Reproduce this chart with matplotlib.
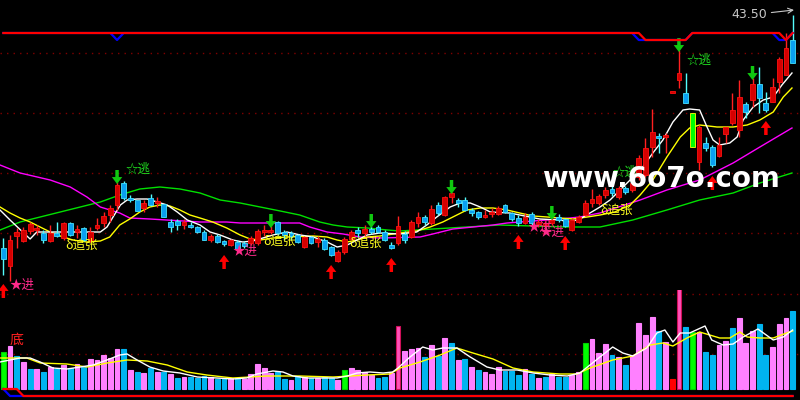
import matplotlib
matplotlib.use('Agg')
import matplotlib.pyplot as plt
import numpy as np

# daily candles (price)
open_ = [20.2, 18.4, 21.4, 20.9, 21.9, 22.0, 21.7, 20.9, 21.7, 21.2,
         22.7, 21.8, 22.2, 21.0, 22.2, 22.7, 23.5, 24.5, 26.7, 25.2,
         25.0, 24.2, 25.2, 24.7, 24.6, 22.8, 22.9, 22.5, 22.5, 22.3,
         21.8, 21.0, 21.4, 20.9, 20.5, 20.8, 20.7, 20.7, 20.7, 21.8,
         21.8, 22.8, 21.8, 21.7, 21.5, 20.3, 21.3, 20.8, 21.0, 20.3,
         18.9, 19.8, 21.1, 22.0, 21.7, 22.1, 22.3, 21.8, 20.5, 20.7,
         21.6, 21.3, 22.7, 23.3, 22.7, 24.5, 23.5, 25.3, 25.0, 25.0,
         24.0, 23.8, 23.3, 23.6, 23.6, 24.5, 23.7, 23.2, 22.7, 23.6,
         22.6, 22.5, 22.7, 23.3, 23.1, 22.0, 22.8, 23.5, 24.7, 24.7,
         25.5, 26.1, 25.3, 26.2, 26.0, 27.3, 27.5, 30.3, 31.4, 31.3,
         35.7, 37.0, 35.7, 33.7, 28.8, 30.7, 30.3, 29.4, 31.6, 32.7,
         32.0, 34.6, 35.0, 36.6, 34.7, 34.8, 36.8, 37.5, 41.0]
close = [19.1, 21.0, 21.8, 22.0, 22.6, 22.2, 21.0, 21.7, 21.4, 22.7,
         21.5, 22.1, 21.0, 21.8, 22.5, 23.4, 24.2, 26.5, 25.2, 25.0,
         23.9, 24.7, 24.5, 24.9, 23.3, 22.3, 22.5, 22.8, 22.3, 21.8,
         21.0, 21.4, 20.8, 20.6, 21.0, 20.1, 20.4, 21.2, 21.9, 21.9,
         22.0, 21.7, 21.5, 21.4, 20.8, 21.3, 20.7, 21.1, 20.1, 19.5,
         19.8, 21.1, 21.8, 21.7, 22.1, 21.8, 21.8, 21.0, 20.2, 22.4,
         21.0, 22.8, 23.3, 22.8, 24.1, 23.7, 25.3, 25.7, 24.7, 24.0,
         23.7, 23.3, 23.5, 23.8, 24.2, 23.8, 23.1, 22.7, 23.3, 22.7,
         22.8, 22.7, 23.0, 23.0, 22.4, 23.0, 23.3, 24.7, 25.1, 25.4,
         26.0, 25.7, 26.2, 25.8, 26.7, 29.2, 30.2, 31.8, 31.2, 31.5,
         35.7, 37.7, 34.7, 30.3, 32.3, 30.2, 28.5, 30.5, 32.3, 34.0,
         35.3, 33.8, 36.6, 35.2, 34.0, 36.3, 39.1, 40.2, 38.7]
high = [21.2, 21.5, 22.2, 22.3, 22.8, 22.5, 22.0, 22.5, 22.8, 22.8,
        22.8, 22.5, 22.3, 22.3, 23.2, 23.8, 24.5, 26.8, 26.9, 25.5,
        25.0, 25.0, 25.6, 25.3, 24.6, 23.1, 23.1, 23.1, 22.8, 22.4,
        22.0, 21.6, 21.6, 21.0, 21.1, 21.0, 20.9, 21.4, 22.1, 22.5,
        22.4, 22.9, 22.0, 21.9, 21.6, 21.4, 21.4, 21.4, 21.2, 20.4,
        20.0, 21.3, 22.0, 22.3, 22.5, 22.4, 22.5, 22.0, 20.8, 23.4,
        21.9, 23.0, 23.8, 23.5, 24.5, 24.8, 25.4, 25.8, 25.2, 25.3,
        24.2, 23.9, 24.0, 24.2, 24.4, 24.6, 23.8, 23.5, 23.7, 23.8,
        23.1, 22.9, 23.2, 23.6, 23.2, 23.2, 23.5, 25.0, 26.1, 25.6,
        26.3, 26.4, 26.4, 26.4, 27.0, 29.5, 31.2, 34.1, 31.7, 31.7,
        35.7, 40.0, 37.7, 33.7, 32.5, 31.3, 30.5, 31.3, 32.3, 35.7,
        37.0, 34.8, 37.2, 38.3, 35.8, 37.2, 39.3, 41.7, 43.5]
low = [17.5, 16.9, 20.2, 20.8, 21.6, 21.5, 20.7, 20.8, 21.3, 21.0,
       21.4, 21.2, 20.9, 20.8, 22.0, 22.3, 22.8, 24.0, 25.0, 24.8,
       23.9, 23.8, 24.4, 24.3, 23.3, 21.8, 22.0, 22.1, 22.2, 21.7,
       21.0, 20.8, 20.7, 20.4, 20.4, 20.0, 20.2, 20.5, 20.5, 21.4,
       21.6, 21.5, 21.0, 21.0, 20.7, 20.2, 20.6, 20.3, 20.0, 19.4,
       18.8, 19.6, 21.0, 21.3, 21.4, 21.6, 21.7, 20.9, 20.1, 20.5,
       20.7, 21.2, 22.3, 22.5, 22.5, 23.5, 23.4, 24.7, 24.3, 23.9,
       23.4, 23.1, 23.2, 23.3, 23.5, 23.7, 22.9, 22.4, 22.6, 22.5,
       22.3, 22.2, 22.5, 22.8, 22.3, 21.9, 22.7, 23.4, 24.3, 24.5,
       25.2, 25.4, 25.1, 25.6, 25.8, 27.0, 27.3, 29.3, 29.7, 29.7,
       35.7, 36.2, 34.7, 30.3, 28.0, 29.9, 28.3, 29.3, 30.7, 32.5,
       31.3, 33.2, 34.3, 33.7, 33.8, 34.8, 35.7, 37.5, 38.7]
special_candle = [103]

# volume and its bar class (u up, d down, g signal, m heavy, r tiny)
volume = [37, 43, 33, 27, 20, 20, 17, 22, 20, 24,
          21, 25, 22, 30, 29, 34, 31, 40, 40, 19,
          17, 16, 21, 17, 17, 15, 11, 12, 12, 11,
          13, 12, 10, 11, 11, 11, 10, 15, 25, 21,
          16, 17, 10, 9, 13, 12, 11, 11, 12, 11,
          9, 19, 21, 19, 17, 14, 11, 12, 16, 63,
          38, 40, 41, 32, 44, 33, 51, 46, 29, 30,
          22, 19, 17, 15, 22, 18, 18, 14, 20, 15,
          11, 12, 15, 12, 12, 14, 17, 46, 50, 36,
          45, 34, 32, 24, 34, 66, 54, 72, 58, 47,
          10, 109, 62, 57, 57, 37, 34, 44, 48, 61,
          71, 46, 58, 65, 34, 42, 65, 71, 78]
vol_kind = ("gududududu"
            "duduuuuudu"
            "dududududd"
            "dudduduuuu"
            "uddudududd"
            "uguuuuddum"
            "uuudududud"
            "uduuudddud"
            "ududduuguu"
            "ududuuuudu"
            "rmdgudduud"
            "uuudduuud")

# moving averages on price (bar index, price)
white_x = [-0.5, 1, 4, 5, 14.5, 15.5, 16.4, 17.5, 18.5, 20, 21.5, 23, 24.5, 26,
           27.5, 29.4, 30.9, 32.4, 34.3, 35.8, 37.3, 38.8, 40.3, 42.4, 44.4,
           46.3, 48.4, 49.9, 51.4, 52.9, 54.4, 56.3, 59.3, 61.8, 63.3, 64.8,
           66.8, 68.3, 69.8, 71.3, 72.8, 75.7, 77.2, 80.2, 83.2, 84.7, 86.2,
           87.7, 89.2, 90.7, 92.2, 93.7, 95.6, 97.1, 98.6, 100.1, 101.6, 102.6,
           104.1, 105.2, 106.1, 107.1, 108.6, 109.7, 110.6, 112.1, 113.6, 115.1,
           116.4, 117.9]
white_y = [24.0, 23.0, 21.1, 21.8, 21.8, 22.3, 23.3, 24.5, 25.0, 25.1, 25.1, 24.8,
           24.5, 23.8, 23.0, 22.5, 21.8, 21.5, 21.0, 20.8, 20.9, 21.2, 21.5, 21.8,
           21.5, 21.3, 20.8, 20.3, 20.5, 21.0, 21.5, 21.7, 21.6, 21.8, 22.5, 23.3,
           24.3, 24.7, 24.7, 24.3, 23.8, 23.7, 23.5, 23.1, 23.0, 22.8, 23.1, 23.7,
           24.3, 25.0, 26.0, 27.0, 28.3, 29.7, 31.0, 32.8, 34.0, 34.1, 34.0, 32.3,
           31.0, 30.5, 30.7, 31.3, 33.0, 34.3, 35.0, 35.3, 36.5, 37.7]
yellow_x = [-0.5, 1, 2.5, 4, 5.5, 7, 8.5, 10.4, 12.5, 14.5, 15.9, 17.4, 18.9, 20.4,
            21.9, 23.4, 24.9, 26.4, 27.9, 29.4, 31.3, 33.4, 35.4, 36.9, 38.4, 40.3,
            42.4, 46.3, 48.4, 49.9, 51.4, 52.9, 54.4, 56.3, 59.3, 61.8, 63.8, 65.7,
            67.8, 69.3, 71.3, 73.2, 75.3, 77.2, 79.2, 81.3, 83.2, 85.2, 87.3, 89.2,
            91.4, 93.7, 95.2, 97.1, 99.2, 101.2, 102.6, 104.1, 106.7, 109.1, 111.2,
            113.1, 115.1, 116.6, 117.9]
yellow_y = [24.3, 23.7, 23.2, 22.8, 22.3, 21.8, 21.4, 21.0, 20.8, 20.9, 21.3, 22.5,
            23.1, 23.8, 24.3, 24.5, 24.4, 24.0, 23.5, 23.2, 22.8, 22.2, 21.5, 21.1,
            21.0, 21.2, 21.3, 21.4, 21.3, 21.0, 20.8, 21.0, 21.3, 21.4, 21.7, 21.9,
            22.3, 22.8, 23.5, 24.0, 24.2, 24.2, 24.0, 23.7, 23.4, 23.3, 23.2, 23.1,
            23.3, 23.5, 23.8, 24.5, 25.5, 27.0, 29.3, 31.3, 32.2, 32.5, 32.3, 32.3,
            32.5, 33.0, 33.8, 35.3, 36.2]
magenta_x = [-0.5, 2.5, 7, 10, 12.5, 14.5, 17.4, 18.9, 21.9, 29.4, 33.4, 35.4, 44.3,
             45.8, 48.4, 50.8, 53.3, 56.3, 62.3, 64.2, 67.2, 70.2, 73.2, 75.3, 79.2,
             83.2, 86.2, 89.2, 95.2, 99.2, 104.1, 109.1, 113.1, 117.9]
magenta_y = [28.5, 27.7, 27.0, 26.3, 25.3, 24.3, 23.7, 23.2, 23.1, 22.8, 22.8, 22.7,
             22.7, 22.3, 21.8, 21.6, 21.3, 21.2, 21.3, 21.6, 22.1, 22.3, 22.5, 22.7,
             22.9, 23.1, 23.3, 23.7, 25.0, 26.0, 27.0, 28.7, 30.3, 32.2]
green_x = [-0.5, 2.5, 5.5, 8.5, 11.5, 14.5, 17.4, 20.4, 23.4, 26.4, 29.4, 32.4, 35.4,
           38.4, 41.4, 44.3, 47.3, 49.3, 51.4, 54.4, 57.4, 59.3, 64.2, 69.3, 74.2,
           79.2, 84.3, 89.2, 94.1, 99.2, 104.1, 109.1, 113.1, 117.9]
green_y = [22.0, 22.8, 23.3, 23.8, 24.3, 24.8, 25.5, 26.1, 26.3, 26.1, 25.7, 25.0,
           24.7, 24.3, 23.9, 23.5, 22.8, 22.5, 22.3, 22.2, 22.0, 21.9, 22.1, 22.3,
           22.5, 22.4, 22.3, 22.3, 23.0, 24.0, 25.0, 25.7, 26.7, 27.7]

# moving averages on volume
vwhite_x = [-0.5, 2.5, 4, 5.5, 7.4, 9.5, 11.5, 13.4, 15.5, 17.4, 18.5, 20, 21.9, 23.9,
            26.4, 29, 31.9, 34.3, 36.4, 37.9, 40.3, 41.8, 43.3, 45.4, 47.8, 49.9,
            51.4, 52.9, 54.8, 56.8, 58.2, 59, 60.8, 62.7, 64.2, 65.7, 67.8, 69.8,
            72.3, 74.2, 76.8, 79.2, 81.7, 84.3, 86.2, 87.7, 89.2, 91.1, 92.6, 94.1,
            96.2, 97.7, 98.9, 100.1, 101.2, 102.6, 104.9, 105.9, 107.6, 109.1, 110.6,
            112.8, 115.1, 116.6, 118]
vwhite_y = [27, 31, 31, 27, 21, 20, 22, 24, 29, 34, 35, 29, 22, 18, 16, 12, 11, 10,
            11, 15, 18, 17, 13, 11, 11, 11, 13, 16, 17, 16, 17, 21, 32, 42, 39, 41,
            41, 32, 22, 19, 19, 16, 14, 13, 16, 24, 32, 42, 36, 33, 41, 56, 59, 47,
            56, 56, 63, 49, 44, 45, 52, 60, 49, 52, 59]
vyellow_x = [-0.5, 3.5, 5.5, 9.5, 12.5, 15.5, 18.5, 21.5, 24.5, 27.5, 30.4, 34.3, 39.4,
             44.3, 49.3, 54.4, 57.8, 59.3, 62.3, 65.3, 67.8, 70.2, 73.2, 76.2, 79.2,
             83.2, 85.8, 87.7, 91.1, 94.1, 96.7, 98.6, 100.1, 102.2, 104.1, 107.1,
             108.6, 110.1, 111.2, 113.1, 115.1, 117.1, 118]
vyellow_y = [31, 31, 26, 25, 22, 26, 29, 28, 24, 17, 14, 11, 13, 13, 12, 14, 15, 21,
             27, 34, 41, 36, 30, 21, 17, 15, 15, 21, 29, 33, 44, 46, 43, 51, 57, 51,
             51, 57, 52, 51, 51, 56, 58]

# step indicators (bars where the line drops)
top_red_low = [96, 97, 98, 99, 100, 101, 102, 117]
top_blue_low = [17, 95, 96, 97, 98, 99, 100, 101, 102, 116, 117]
bottom_red_high = [0, 1, 2]
bottom_blue_high = [0]

# signals
buy_bars = [0, 33, 49, 58, 77, 84, 106, 114]
sell_bars = [17, 40, 55, 67, 82, 101, 112]
buy_labels = [(-0.3, 23.4, 'right'), (0.9, 16.5, 'left'), (34.2, 19.9, 'left'),
              (78.3, 22.3, 'left'), (80.2, 21.8, 'left')]
sell_labels = [(18.2, 28.1), (91.0, 27.8), (102.1, 39.0)]
chase_labels = [(9.2, 20.5), (38.8, 20.9), (51.7, 20.7), (89.2, 24.0)]
price_grid = [39.7, 33.7, 27.7, 21.7]
vol_grid = [95, 35]

n = len(close)
x = np.arange(n)
o = np.array(open_)
c = np.array(close)
cjk = ['Noto Sans CJK SC', 'DejaVu Sans']

fig = plt.figure(figsize=(8, 4), dpi=100, facecolor='black')


def panel(y0, y1):
    ax = fig.add_axes([0, 1 - y1 / 400, 1, (y1 - y0) / 400])
    ax.set_facecolor('none')
    ax.set_xlim(-0.5, 119.1)
    ax.set_axis_off()
    return ax


ax = panel(0, 290)
ax.set_ylim(16, 45)
for p in price_grid:
    ax.axhline(p, color='#800000', lw=1, linestyle=(0, (1, 3.7)), zorder=0)

ax.plot(green_x, green_y, color='#00e000', lw=1, zorder=1)
ax.plot(magenta_x, magenta_y, color='#ff00ff', lw=1, zorder=1)
ax.plot(yellow_x, yellow_y, color='#ffff00', lw=1, zorder=2)
ax.plot(white_x, white_y, color='white', lw=1, zorder=2)

up = c >= o
wick_col = np.where(up, '#ff2020', '#54fcfc')
ax.vlines(x, low, high, colors=wick_col, lw=1, zorder=3)
body_h = np.maximum(np.abs(c - o), 0.2)
body_b = np.minimum(o, c)
face = np.where(up, '#d40000', '#0aa0f0').tolist()
edge = np.where(up, '#ff1010', '#40e0ff').tolist()
for i in special_candle:
    face[i] = '#00ff00'
    edge[i] = '#ffff00'
ax.bar(x, body_h, bottom=body_b, width=0.72, color=face, edgecolor=edge,
       linewidth=0.6, zorder=4)

hi = np.array(high)
lo = np.array(low)
for i in buy_bars:
    ax.annotate('', xy=(i, lo[i] - 0.9), xytext=(i, lo[i] - 2.3),
                arrowprops=dict(arrowstyle='simple,head_length=0.5,head_width=0.75,tail_width=0.25',
                                fc='#ff0000', ec='none', mutation_scale=10,
                                shrinkA=0, shrinkB=0), zorder=5)
for i in sell_bars:
    ax.annotate('', xy=(i, hi[i] - 0.2), xytext=(i, hi[i] + 1.2),
                arrowprops=dict(arrowstyle='simple,head_length=0.5,head_width=0.75,tail_width=0.25',
                                fc='#10c810', ec='none', mutation_scale=10,
                                shrinkA=0, shrinkB=0), zorder=5)

for bx, by, ha in buy_labels:
    ax.text(bx, by, '★进', color='#ff2a8a', fontsize=9, family=cjk,
            ha=ha, va='center', zorder=6)
for bx, by in sell_labels:
    ax.text(bx, by, '☆逃', color='#20e020', fontsize=9, family=cjk,
            ha='left', va='center', zorder=6)
for bx, by in chase_labels:
    ax.text(bx, by, 'δ追张', color='#ffff20', fontsize=9, family=cjk,
            ha='left', va='center', zorder=6)

ax.annotate('43.50', xy=(n - 1 + 0.2, hi[-1] + 0.5), xytext=(n - 1 - 3.8, hi[-1]),
            color='#c8c8c8', fontsize=9, ha='right', va='center',
            arrowprops=dict(arrowstyle='->', color='#c8c8c8', lw=0.8,
                            shrinkA=1, shrinkB=0), zorder=6)

ax.text(98.3, 27.1, 'www.6o7o.com', color='white', fontsize=20,
        fontweight='bold', family='DejaVu Sans', ha='center', va='center', zorder=10)

# top step line
axt = panel(25, 45)
axt.set_ylim(-0.714, 2.143)
axt.plot(x, [0 if i in top_blue_low else 1 for i in x], color='#0000ff', lw=1.6)
axt.plot(x, [0 if i in top_red_low else 1 for i in x], color='#ff0000', lw=1.6)

# volume panel
axv = panel(290, 400)
axv.set_ylim(-11, 99)
for p in vol_grid:
    axv.axhline(p, color='#800000', lw=1, linestyle=(0, (1, 3.7)), zorder=0)
kind_face = {'u': '#ff80ff', 'd': '#00b4f0', 'g': '#00ff00', 'm': '#ff50b8', 'r': '#ff0000'}
kind_edge = {'u': '#ff80ff', 'd': '#00b4f0', 'g': '#00d000', 'm': '#d0105a', 'r': '#ff0000'}
axv.bar(x, volume, width=0.72, color=[kind_face[k] for k in vol_kind],
        edgecolor=[kind_edge[k] for k in vol_kind], linewidth=0.8, zorder=1)
axv.plot(vyellow_x, vyellow_y, color='#ffff00', lw=1, zorder=2)
axv.plot(vwhite_x, vwhite_y, color='white', lw=1, zorder=2)
axv.text(1.9, 49, '底', color='#ff2020', fontsize=10, family=cjk,
         ha='center', va='center')

# bottom step line
axb = panel(380, 400)
axb.set_ylim(-0.571, 2.286)
axb.plot(x, [1 if i in bottom_blue_high else 0 for i in x], color='#0000ff', lw=1.6)
axb.plot(x, [1 if i in bottom_red_high else 0 for i in x], color='#ff0000', lw=1.6)

fig.savefig('out.png', dpi=100, facecolor='black')
